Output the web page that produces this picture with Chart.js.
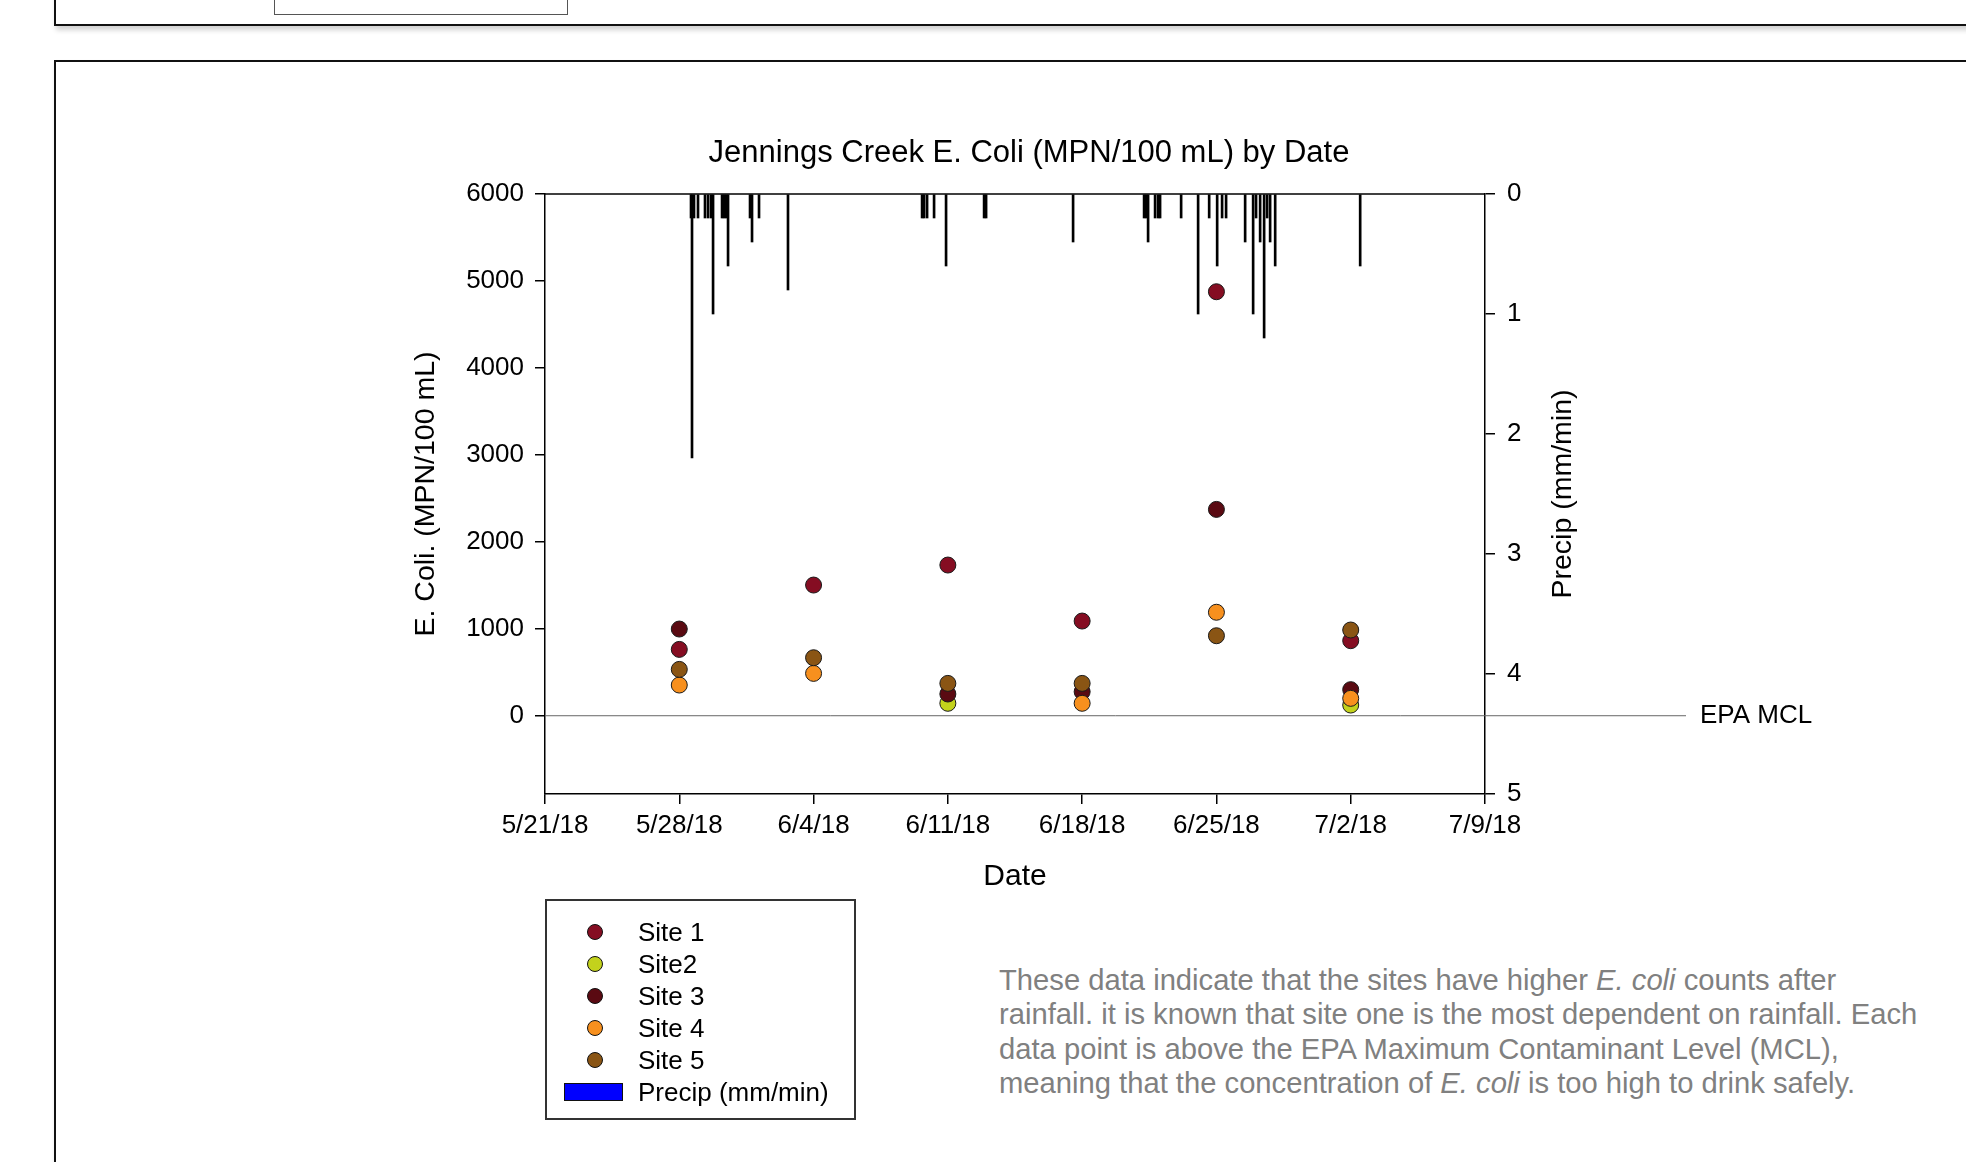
<!DOCTYPE html>
<html>
<head>
<meta charset="utf-8">
<script src="https://cdn.jsdelivr.net/npm/chart.js@4.4.1/dist/chart.umd.min.js"></script>
<style>
  html, body { margin: 0; padding: 0; background: #fff; }
  body { width: 1966px; height: 1162px; position: relative; overflow: hidden; font-family: 'Liberation Sans', Arial, sans-serif; }
  .frame { position: absolute; border: 2px solid #111; box-shadow: 2px 4px 5px rgba(0,0,0,0.18); }
  #chartBox { position: absolute; left: 300px; top: 100px; }
  #legend { position: absolute; left: 545px; top: 899px; width: 307px; height: 217px; border: 2px solid #333; }
  .row { position: absolute; left: 0; height: 32px; line-height: 32px; font-size: 26px; color: #000; }
  .dot { position: absolute; width: 14px; height: 14px; border-radius: 50%; border: 1px solid #111; }
  .swatch { position: absolute; width: 57px; height: 16px; background: #0000ff; border: 1px solid #111; }
  #note { position: absolute; left: 999px; top: 963px; font-size: 29.2px; line-height: 34.3px; color: #808080; white-space: nowrap; }
</style>
</head>
<body>
<div class="frame" style="left:54px; top:-10px; width:2000px; height:32px;"></div>
<div class="frame" style="left:274px; top:-10px; width:292px; height:23px; border:1.5px solid #555; box-shadow:none;"></div>
<div class="frame" style="left:54px; top:60px; width:2000px; height:1200px;"></div>

<div id="chartBox"><canvas id="myChart" width="1600" height="820"></canvas></div>
<div id="legend"></div>
<div id="note">These data indicate that the sites have higher <i>E. coli</i> counts after<br>rainfall. it is known that site one is the most dependent on rainfall. Each<br>data point is above the EPA Maximum Contaminant Level (MCL),<br>meaning that the concentration of <i>E. coli</i> is too high to drink safely.</div>

<script>
// sampling dates and E. coli counts (MPN/100 mL)
const sampleDates = ['2018-05-28', '2018-06-04', '2018-06-11', '2018-06-18', '2018-06-25', '2018-07-02'];
const site1 = [763, 1503, 1733, 1089, 4876, 863];
const site2 = [null, null, 143, null, null, 123];
const site3 = [997, null, 250, 276, 2373, 300];
const site4 = [353, 487, null, 143, 1190, 200];
const site5 = [533, 667, 372, 372, 920, 986];

const siteNames = ['Site 1', 'Site2', 'Site 3', 'Site 4', 'Site 5'];
const siteColors = ['#850d22', '#c3d21c', '#5a0a12', '#f7901e', '#8a5514'];
const siteValues = [site1, site2, site3, site4, site5];

// axis ticks
const xTickDays = [0, 7, 14, 21, 28, 35, 42, 49];   // days after 5/21/18
const yTicks = [0, 1000, 2000, 3000, 4000, 5000, 6000];
const precipTicks = [0, 1, 2, 3, 4, 5];

// precipitation (mm/min)
const precipTimes = [
  '2018-05-28 14:40', '2018-05-28 15:55', '2018-05-28 18:25', '2018-05-28 23:25',
  '2018-05-29 08:10', '2018-05-29 12:00', '2018-05-29 15:45', '2018-05-29 18:15',
  '2018-05-30 05:30', '2018-05-30 08:00', '2018-05-30 10:30', '2018-05-30 13:00',
  '2018-05-31 16:30', '2018-05-31 19:00', '2018-06-01 03:45', '2018-06-02 16:00',
  '2018-06-09 15:45', '2018-06-09 18:15', '2018-06-09 22:00', '2018-06-10 06:45',
  '2018-06-10 21:45', '2018-06-12 21:20', '2018-06-12 23:50', '2018-06-17 12:40',
  '2018-06-21 05:30', '2018-06-21 08:00', '2018-06-21 10:30', '2018-06-21 19:15',
  '2018-06-21 23:00', '2018-06-22 01:30', '2018-06-23 03:50', '2018-06-24 01:05',
  '2018-06-24 14:55', '2018-06-25 00:55', '2018-06-25 07:05', '2018-06-25 12:05',
  '2018-06-26 11:55', '2018-06-26 21:55', '2018-06-27 01:35', '2018-06-27 06:40',
  '2018-06-27 11:40', '2018-06-27 15:25', '2018-06-27 19:10', '2018-06-28 01:30',
  '2018-07-02 11:50'
];
const precipValues = [
  0.2, 2.2, 0.2, 0.2,
  0.2, 0.2, 0.2, 1.0,
  0.2, 0.2, 0.2, 0.6,
  0.2, 0.4, 0.2, 0.8,
  0.2, 0.2, 0.2, 0.2,
  0.6, 0.2, 0.2, 0.4,
  0.2, 0.2, 0.4, 0.2,
  0.2, 0.2, 0.2, 1.0,
  0.2, 0.6, 0.2, 0.2,
  0.4, 1.0, 0.2, 0.4,
  1.2, 0.2, 0.4, 0.6,
  0.6
];

const epaMcl = 0;
const startDate = Date.UTC(2018, 4, 21);

function toDay(s) {
  const parts = s.split(' ');
  const d = parts[0].split('-').map(Number);
  let h = 0, mi = 0;
  if (parts[1]) {
    const t = parts[1].split(':').map(Number);
    h = t[0]; mi = t[1];
  }
  return (Date.UTC(d[0], d[1] - 1, d[2], h, mi) - startDate) / 864e5;
}

function dayLabel(v) {
  const dt = new Date(startDate + v * 864e5);
  return (dt.getUTCMonth() + 1) + '/' + dt.getUTCDate() + '/18';
}

const font = 'Liberation Sans, Arial, sans-serif';

const datasets = siteNames.map((name, i) => ({
  type: 'scatter',
  label: name,
  data: sampleDates.map((d, j) => ({ x: toDay(d), y: siteValues[i][j] })).filter(p => p.y !== null),
  backgroundColor: siteColors[i],
  borderColor: '#1a1a1a',
  pointRadius: 8,
  pointHoverRadius: 8,
  pointBorderWidth: 1,
  order: 5 - i,
  yAxisID: 'y'
}));

datasets.push({
  type: 'bar',
  label: 'Precip (mm/min)',
  data: precipTimes.map((t, i) => ({ x: toDay(t), y: precipValues[i] })),
  backgroundColor: '#000',
  borderWidth: 0,
  barThickness: 2,
  order: 10,
  yAxisID: 'y2'
});

const extras = {
  id: 'extras',
  beforeDatasetsDraw(chart) {
    const ctx = chart.ctx;
    const a = chart.chartArea;
    const yy = chart.scales.y.getPixelForValue(epaMcl);
    ctx.save();
    ctx.strokeStyle = '#666';
    ctx.lineWidth = 1;
    ctx.beginPath();
    ctx.moveTo(a.left, yy);
    ctx.lineTo(1386, yy);
    ctx.stroke();
    ctx.restore();
  },
  afterDraw(chart) {
    const ctx = chart.ctx;
    const a = chart.chartArea;
    const yy = chart.scales.y.getPixelForValue(epaMcl);
    ctx.save();
    ctx.strokeStyle = '#000';
    ctx.lineWidth = 1.5;
    ctx.beginPath();
    ctx.moveTo(a.left, a.top);
    ctx.lineTo(a.right, a.top);
    ctx.stroke();

    ctx.fillStyle = '#000';
    ctx.font = '26px ' + font;
    ctx.textBaseline = 'middle';
    ctx.textAlign = 'left';
    ctx.fillText('EPA MCL', 1400, yy);

    ctx.translate(1263, (a.top + a.bottom) / 2);
    ctx.rotate(-Math.PI / 2);
    ctx.textAlign = 'center';
    ctx.font = '28.5px ' + font;
    ctx.fillText('Precip (mm/min)', 0, 0);
    ctx.restore();
  }
};

const axisGrid = { drawOnChartArea: false, drawTicks: true, tickLength: 10, color: '#000', lineWidth: 1.5, offset: false };
const axisBorder = { color: '#000', width: 1.5 };

new Chart(document.getElementById('myChart').getContext('2d'), {
  type: 'scatter',
  data: { datasets },
  options: {
    responsive: false,
    animation: false,
    devicePixelRatio: 1,
    layout: { padding: { left: 0, right: 142, top: 0, bottom: 16 } },
    plugins: {
      legend: { display: false },
      tooltip: { enabled: false },
      title: {
        display: true,
        text: 'Jennings Creek E. Coli (MPN/100 mL) by Date',
        color: '#000',
        font: { family: font, size: 31, weight: 'normal' },
        padding: { top: 34.4, bottom: 22.4 }
      }
    },
    scales: {
      x: {
        type: 'linear',
        position: 'bottom',
        offset: false,
        min: xTickDays[0],
        max: xTickDays[xTickDays.length - 1],
        afterFit: s => { s.height = 110; },
        afterBuildTicks: s => { s.ticks = xTickDays.map(v => ({ value: v })); },
        ticks: {
          color: '#000',
          padding: 6,
          maxRotation: 0,
          autoSkip: false,
          font: { family: font, size: 26 },
          callback: v => dayLabel(v)
        },
        grid: axisGrid,
        border: axisBorder,
        title: {
          display: true,
          text: 'Date',
          color: '#000',
          font: { family: font, size: 30 },
          padding: { top: 0, bottom: 9.5 }
        }
      },
      y: {
        type: 'linear',
        position: 'left',
        min: -900,
        max: 6000,
        afterFit: s => { s.width = 245; },
        afterBuildTicks: s => { s.ticks = yTicks.map(v => ({ value: v })); },
        ticks: {
          color: '#000',
          padding: 11,
          autoSkip: false,
          font: { family: font, size: 26 },
          callback: v => String(v)
        },
        grid: axisGrid,
        border: axisBorder,
        title: {
          display: true,
          text: 'E. Coli. (MPN/100 mL)',
          color: '#000',
          font: { family: font, size: 28.5 },
          padding: { top: 109, bottom: 0 }
        }
      },
      y2: {
        type: 'linear',
        position: 'right',
        min: 0,
        max: 5,
        reverse: true,
        afterFit: s => { s.width = 273; },
        afterBuildTicks: s => { s.ticks = precipTicks.map(v => ({ value: v })); },
        ticks: {
          color: '#000',
          padding: 12,
          autoSkip: false,
          font: { family: font, size: 26 },
          callback: v => String(v)
        },
        grid: axisGrid,
        border: axisBorder
      }
    }
  },
  plugins: [extras]
});

// legend box
const legend = document.getElementById('legend');
siteNames.forEach((name, i) => {
  const row = document.createElement('div');
  row.className = 'row';
  row.style.top = (15 + i * 32) + 'px';
  row.style.width = '100%';
  const dot = document.createElement('span');
  dot.className = 'dot';
  dot.style.left = '40px';
  dot.style.top = '8px';
  dot.style.background = siteColors[i];
  const txt = document.createElement('span');
  txt.style.position = 'absolute';
  txt.style.left = '91px';
  txt.textContent = name;
  row.appendChild(dot);
  row.appendChild(txt);
  legend.appendChild(row);
});
const prow = document.createElement('div');
prow.className = 'row';
prow.style.top = (15 + 5 * 32) + 'px';
prow.style.width = '100%';
const sw = document.createElement('span');
sw.className = 'swatch';
sw.style.left = '17px';
sw.style.top = '7px';
const ptxt = document.createElement('span');
ptxt.style.position = 'absolute';
ptxt.style.left = '91px';
ptxt.textContent = 'Precip (mm/min)';
prow.appendChild(sw);
prow.appendChild(ptxt);
legend.appendChild(prow);
</script>
</body>
</html>
